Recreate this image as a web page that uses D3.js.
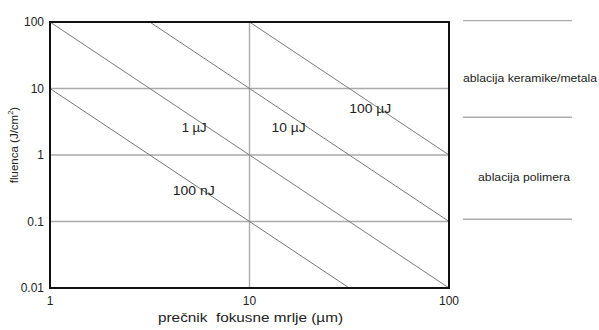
<!DOCTYPE html>
<html><head><meta charset="utf-8">
<script src="https://cdn.jsdelivr.net/npm/d3@7"></script>
<style>body{margin:0;background:#fff}svg{font-family:"Liberation Sans",Arial,sans-serif}text{white-space:pre}</style>
</head><body><svg id="c" width="599" height="330"></svg>
<script>
const xTicks = [1, 10, 100];
const yTicks = [0.01, 0.1, 1, 10, 100];
const yTickLabels = ["0.01", "0.1", "1", "10", "100"];
const energies = ["100 nJ", "1 µJ", "10 µJ", "100 µJ"];
// fluence at spot diameter 1 µm (J/cm²) for each energy line
const fluenceAtOne = [10, 100, 1000, 10000];
// label anchor positions (diameter µm, fluence J/cm²)
const labelX = [4.12, 4.57, 12.9, 31.6];
const labelY = [0.25, 2.22, 2.22, 4.28];
const labelW = [42, 25, 34, 42];
const regionBounds = [105, 3.7, 0.108];
const regionNames = ["ablacija keramike/metala", "ablacija polimera"];
const regionY = [12.5, 0.41];
const regionW = [134, 92];
const regionCx = [530, 524];

const svg = d3.select("#c");
const m = {l:50, t:22, r:449, b:288};
const x = d3.scaleLog().domain([1,100]).range([m.l, m.r]);
const y = d3.scaleLog().domain([0.01,100]).range([m.b, m.t]);
const gridC = "#aaaaaa";
const txt = "#222";

// grid
svg.append("g").selectAll("line").data([0.1,1,10]).join("line")
  .attr("x1", m.l).attr("x2", m.r).attr("y1", d=>y(d)).attr("y2", d=>y(d))
  .attr("stroke", gridC).attr("stroke-width", 1.4);
svg.append("g").selectAll("line").data([10]).join("line")
  .attr("y1", m.t).attr("y2", m.b).attr("x1", d=>x(d)).attr("x2", d=>x(d))
  .attr("stroke", gridC).attr("stroke-width", 1.4);

// energy lines F = F1 / d^2, clipped to plot
svg.append("clipPath").attr("id","pc").append("rect")
  .attr("x", m.l).attr("y", m.t).attr("width", m.r-m.l).attr("height", m.b-m.t);
const line = d3.line().x(d=>x(d[0])).y(d=>y(d[1]));
const g = svg.append("g").attr("clip-path","url(#pc)");
fluenceAtOne.forEach(f1 => {
  const ds = [0.5, 200];
  g.append("path").datum(ds.map(d => [d, f1/(d*d)])).attr("d", line)
    .attr("fill","none").attr("stroke","#7a7a7a").attr("stroke-width",1);
});

// frame
svg.append("rect").attr("x", m.l).attr("y", m.t).attr("width", m.r-m.l).attr("height", m.b-m.t)
  .attr("fill","none").attr("stroke","#111").attr("stroke-width",2);

// tick labels
svg.append("g").selectAll("text").data(yTicks).join("text")
  .attr("x", m.l-6).attr("y", d=>y(d)).attr("dy","0.35em").attr("text-anchor","end")
  .attr("font-size", 12).attr("fill",txt).text((d,i)=>yTickLabels[i]);
svg.append("g").selectAll("text").data(xTicks).join("text")
  .attr("x", d=>x(d)).attr("y", m.b+17).attr("text-anchor","middle")
  .attr("font-size", 12).attr("fill",txt).text(d=>d);

// axis titles
svg.append("text").attr("x", 158).attr("y", 322)
  .attr("font-size", 12).attr("fill",txt)
  .attr("textLength", 185).attr("lengthAdjust","spacingAndGlyphs")
  .text("prečnik  fokusne mrlje (µm)");
const yt = svg.append("text").attr("transform","translate(18,145) rotate(-90)")
  .attr("text-anchor","middle").attr("font-size", 11.5).attr("fill",txt);
yt.append("tspan").text("fluenca (J/cm");
yt.append("tspan").attr("font-size",7.5).attr("dy",-5).text("2");
yt.append("tspan").attr("dy",5).text(")");

// energy labels
svg.append("g").selectAll("text").data(energies).join("text")
  .attr("x", (d,i)=>x(labelX[i])).attr("y", (d,i)=>y(labelY[i]))
  .attr("font-size", 12.5).attr("fill",txt)
  .attr("textLength", (d,i)=>labelW[i]).attr("lengthAdjust","spacingAndGlyphs")
  .text(d=>d);

// right side regions
svg.append("g").selectAll("line").data(regionBounds).join("line")
  .attr("x1", 463).attr("x2", 572).attr("y1", d=>y(d)).attr("y2", d=>y(d))
  .attr("stroke", gridC).attr("stroke-width", 1.4);
svg.append("g").selectAll("text").data(regionNames).join("text")
  .attr("x", (d,i)=>regionCx[i]).attr("y", (d,i)=>y(regionY[i])).attr("text-anchor","middle")
  .attr("font-size", 11.5).attr("fill",txt)
  .attr("textLength", (d,i)=>regionW[i]).attr("lengthAdjust","spacingAndGlyphs")
  .text(d=>d);
</script></body></html>
